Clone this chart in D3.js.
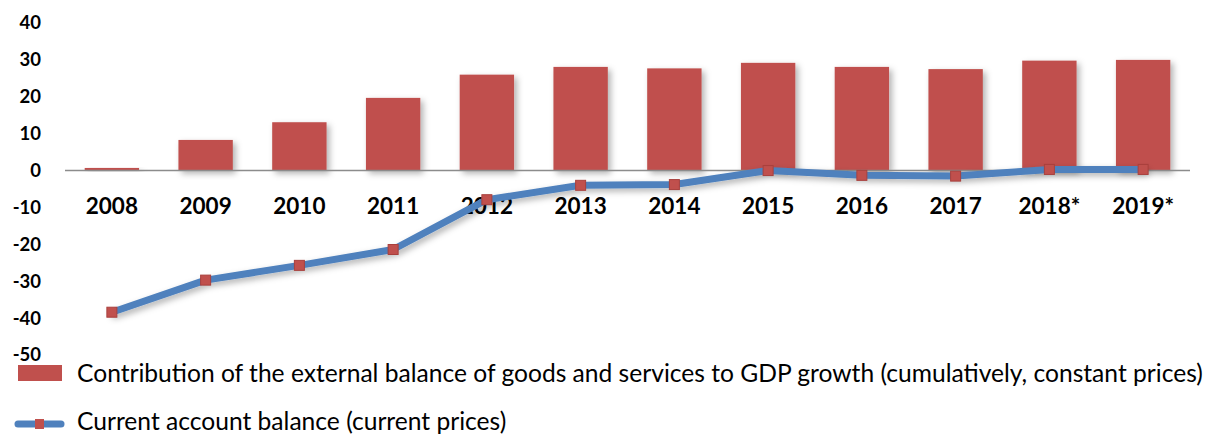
<!DOCTYPE html>
<html>
<head>
<meta charset="utf-8">
<script src="https://cdn.jsdelivr.net/npm/d3@7"></script>
<style>
  body { margin: 0; background: #fff; }
  svg { display: block; font-family: Lato, "Open Sans", sans-serif; }
</style>
</head>
<body>
<svg id="chart" width="1214" height="438"></svg>
<script>
const years = ["2008", "2009", "2010", "2011", "2012", "2013", "2014", "2015", "2016", "2017", "2018*", "2019*"];
const contribution = [0.7, 8.3, 13.1, 19.7, 26.0, 28.1, 27.7, 29.2, 28.1, 27.5, 29.8, 30.0];
const currentAccount = [-38.4, -29.7, -25.7, -21.4, -7.9, -4.0, -3.8, 0.0, -1.3, -1.5, 0.3, 0.3];
const yTicks = [40, 30, 20, 10, 0, -10, -20, -30, -40, -50];
const legendLabels = [
  "Contribution of the external balance of goods and services to GDP growth (cumulatively, constant prices)",
  "Current account balance (current prices)"
];

const svg = d3.select("#chart");

const x = d3.scaleBand().domain(years).range([65, 1190]).paddingInner(0.42).paddingOuter(0.21);
const y = d3.scaleLinear().domain([-50, 40]).range([355, 23]);

// shadow like the office chart
const defs = svg.append("defs");
defs.append("filter").attr("id", "shadow")
  .attr("x", "-20%").attr("y", "-20%").attr("width", "150%").attr("height", "150%")
  .append("feDropShadow")
  .attr("dx", 3).attr("dy", 3).attr("stdDeviation", 3)
  .attr("flood-color", "#000").attr("flood-opacity", 0.3);

// y axis labels (no line)
svg.append("g")
  .selectAll("text")
  .data(yTicks)
  .enter().append("text")
  .attr("x", 41)
  .attr("y", d => y(d))
  .attr("dy", "0.35em")
  .attr("text-anchor", "end")
  .attr("font-size", 18.5)
  .attr("font-weight", "bold")
  .attr("fill", "#000")
  .text(d => d);

// bars
svg.append("g")
  .selectAll("rect")
  .data(contribution)
  .enter().append("rect")
  .attr("x", (d, i) => x(years[i]))
  .attr("y", d => y(d))
  .attr("width", x.bandwidth())
  .attr("height", d => y(0) - y(d))
  .attr("fill", "#C0504D")
  .attr("filter", "url(#shadow)");

// zero line
svg.append("line")
  .attr("x1", x.range()[0]).attr("x2", x.range()[1])
  .attr("y1", y(0)).attr("y2", y(0))
  .attr("stroke", "#8c8c8c")
  .attr("stroke-width", 1.5);

// category labels
svg.append("g")
  .selectAll("text")
  .data(years)
  .enter().append("text")
  .attr("x", d => x(d) + x.bandwidth() / 2)
  .attr("y", 214)
  .attr("text-anchor", "middle")
  .attr("font-size", 22.5)
  .attr("font-weight", "bold")
  .attr("fill", "#000")
  .text(d => d);

// current account line
const line = d3.line()
  .x((d, i) => x(years[i]) + x.bandwidth() / 2)
  .y(d => y(d));

svg.append("path")
  .datum(currentAccount)
  .attr("d", line)
  .attr("fill", "none")
  .attr("stroke", "#4F81BD")
  .attr("stroke-width", 7)
  .attr("stroke-linejoin", "round")
  .attr("stroke-linecap", "round")
  .attr("filter", "url(#shadow)");

svg.append("g")
  .selectAll("rect")
  .data(currentAccount)
  .enter().append("rect")
  .attr("x", (d, i) => x(years[i]) + x.bandwidth() / 2 - 5)
  .attr("y", d => y(d) - 5)
  .attr("width", 10)
  .attr("height", 10)
  .attr("fill", "#C0504D")
  .attr("stroke", "#A9403D")
  .attr("stroke-width", 1);

// legend
const lg = svg.append("g");
lg.append("rect")
  .attr("x", 18).attr("y", 365).attr("width", 44).attr("height", 16)
  .attr("fill", "#C0504D");
lg.append("text")
  .attr("x", 77).attr("y", 373)
  .attr("dy", "0.35em")
  .attr("font-size", 24.6)
  .attr("fill", "#000")
  .text(legendLabels[0]);

lg.append("line")
  .attr("x1", 18).attr("x2", 61).attr("y1", 424).attr("y2", 424)
  .attr("stroke", "#4F81BD").attr("stroke-width", 7).attr("stroke-linecap", "round");
lg.append("rect")
  .attr("x", 35).attr("y", 419).attr("width", 9).attr("height", 10)
  .attr("fill", "#C0504D");
lg.append("text")
  .attr("x", 77).attr("y", 421)
  .attr("dy", "0.35em")
  .attr("font-size", 24.6)
  .attr("fill", "#000")
  .text(legendLabels[1]);
</script>
</body>
</html>
